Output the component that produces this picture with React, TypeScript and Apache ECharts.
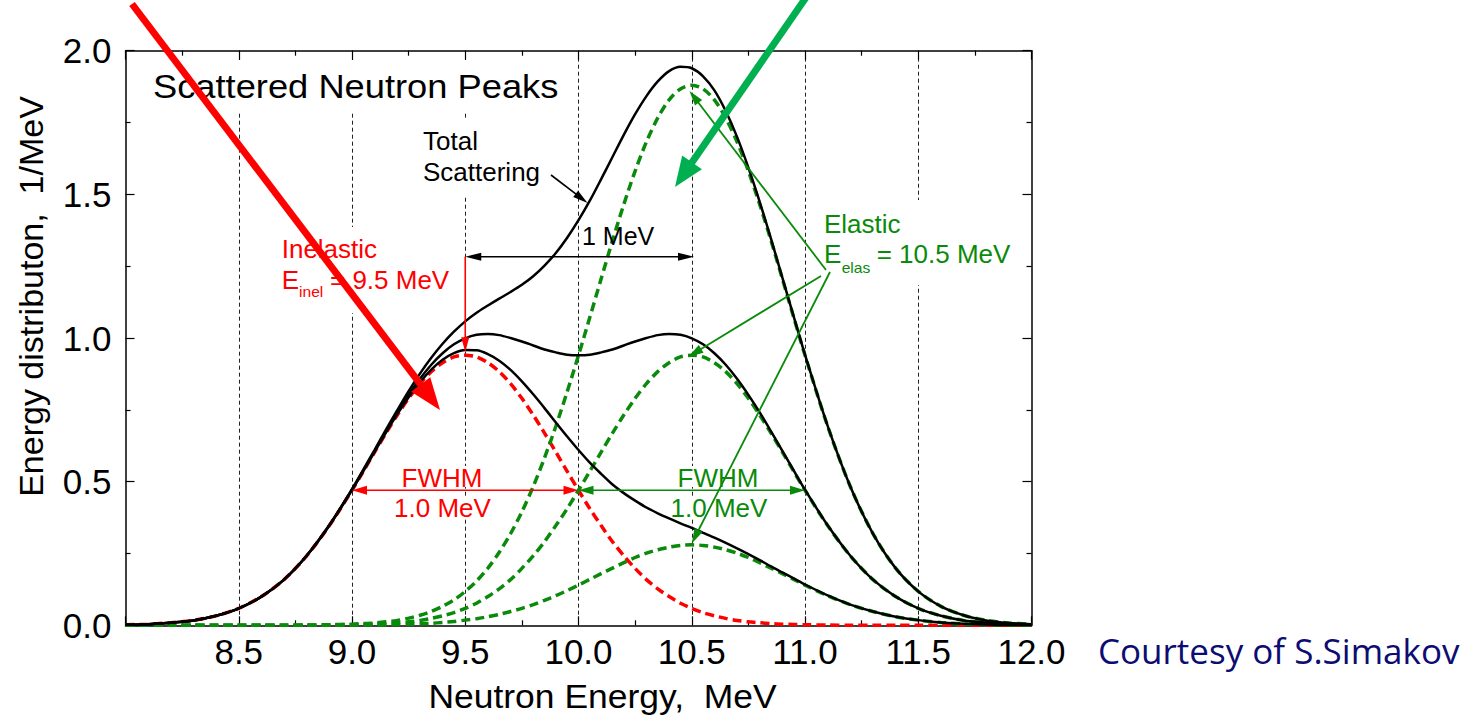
import React, { useEffect, useRef } from "react";
import * as echarts from "echarts";

// ---------- data ----------
const energy = [
  8.0, 8.1, 8.2, 8.3, 8.4, 8.5, 8.6, 8.7, 8.8, 8.9,
  9.0, 9.05, 9.1, 9.15, 9.2, 9.25, 9.3, 9.35, 9.4, 9.45,
  9.5, 9.55, 9.6, 9.65, 9.7, 9.75, 9.8, 9.85, 9.9, 9.95,
  10.0, 10.05, 10.1, 10.15, 10.2, 10.25, 10.3, 10.35, 10.4, 10.45,
  10.5, 10.55, 10.6, 10.65, 10.7, 10.75, 10.8, 10.85, 10.9, 10.95, 11.0,
  11.1, 11.2, 11.3, 11.4, 11.5, 11.6, 11.7, 11.8, 11.9, 12.0,
];
const inelastic = [
  0.002, 0.004, 0.009, 0.017, 0.033, 0.059, 0.1, 0.159, 0.242, 0.347,
  0.47, 0.536, 0.603, 0.669, 0.732, 0.79, 0.841, 0.883, 0.914, 0.934,
  0.94, 0.934, 0.914, 0.883, 0.841, 0.79, 0.732, 0.669, 0.603, 0.536,
  0.47, 0.406, 0.347, 0.291, 0.242, 0.198, 0.159, 0.127, 0.1, 0.077,
  0.059, 0.044, 0.033, 0.024, 0.017, 0.012, 0.009, 0.006, 0.004, 0.003, 0.002,
  0.001, 0, 0, 0, 0, 0, 0, 0, 0, 0,
];
const elasticLarge = [
  0, 0, 0, 0, 0, 0, 0, 0, 0.001, 0.002,
  0.004, 0.006, 0.008, 0.012, 0.017, 0.025, 0.035, 0.048, 0.066, 0.088,
  0.118, 0.154, 0.199, 0.254, 0.319, 0.395, 0.483, 0.583, 0.693, 0.813,
  0.94, 1.072, 1.206, 1.339, 1.465, 1.581, 1.683, 1.766, 1.829, 1.867,
  1.88, 1.867, 1.829, 1.766, 1.683, 1.581, 1.465, 1.339, 1.206, 1.072, 0.94,
  0.693, 0.483, 0.319, 0.199, 0.118, 0.066, 0.035, 0.017, 0.008, 0.004,
];
const elasticMedium = [
  0, 0, 0, 0, 0, 0, 0, 0, 0, 0.001,
  0.002, 0.003, 0.004, 0.006, 0.009, 0.012, 0.017, 0.024, 0.033, 0.044,
  0.059, 0.077, 0.1, 0.127, 0.159, 0.198, 0.242, 0.291, 0.347, 0.406,
  0.47, 0.536, 0.603, 0.669, 0.732, 0.79, 0.841, 0.883, 0.914, 0.934,
  0.94, 0.934, 0.914, 0.883, 0.841, 0.79, 0.732, 0.669, 0.603, 0.536, 0.47,
  0.347, 0.242, 0.159, 0.1, 0.059, 0.033, 0.017, 0.009, 0.004, 0.002,
];
const elasticSmall = [
  0, 0, 0, 0, 0, 0, 0, 0, 0, 0,
  0.001, 0.001, 0.001, 0.002, 0.003, 0.004, 0.005, 0.007, 0.01, 0.013,
  0.018, 0.023, 0.03, 0.038, 0.048, 0.059, 0.072, 0.087, 0.103, 0.121,
  0.14, 0.16, 0.18, 0.199, 0.218, 0.236, 0.251, 0.263, 0.272, 0.278,
  0.28, 0.278, 0.272, 0.263, 0.251, 0.236, 0.218, 0.199, 0.18, 0.16, 0.14,
  0.103, 0.072, 0.048, 0.03, 0.018, 0.01, 0.005, 0.003, 0.001, 0.001,
];
const totalLarge = [
  0.002, 0.004, 0.009, 0.017, 0.033, 0.059, 0.1, 0.159, 0.243, 0.349,
  0.474, 0.542, 0.611, 0.681, 0.749, 0.815, 0.876, 0.931, 0.98, 1.022,
  1.058, 1.088, 1.113, 1.137, 1.16, 1.185, 1.215, 1.252, 1.296, 1.349,
  1.41, 1.478, 1.553, 1.63, 1.707, 1.779, 1.842, 1.893, 1.929, 1.944,
  1.939, 1.911, 1.862, 1.79, 1.7, 1.593, 1.474, 1.345, 1.21, 1.075, 0.942,
  0.694, 0.483, 0.319, 0.199, 0.118, 0.066, 0.035, 0.017, 0.008, 0.004,
];
const totalMedium = [
  0.002, 0.004, 0.009, 0.017, 0.033, 0.059, 0.1, 0.159, 0.242, 0.348,
  0.472, 0.539, 0.607, 0.675, 0.741, 0.802, 0.858, 0.907, 0.947, 0.978,
  0.999, 1.011, 1.014, 1.01, 1.0, 0.988, 0.974, 0.96, 0.95, 0.942,
  0.94, 0.942, 0.95, 0.96, 0.974, 0.988, 1.0, 1.01, 1.014, 1.011,
  0.999, 0.978, 0.947, 0.907, 0.858, 0.802, 0.741, 0.675, 0.607, 0.539, 0.472,
  0.348, 0.242, 0.159, 0.1, 0.059, 0.033, 0.017, 0.009, 0.004, 0.002,
];
const totalSmall = [
  0.002, 0.004, 0.009, 0.017, 0.033, 0.059, 0.1, 0.159, 0.242, 0.347,
  0.471, 0.537, 0.604, 0.671, 0.735, 0.794, 0.846, 0.89, 0.924, 0.947,
  0.958, 0.957, 0.944, 0.921, 0.889, 0.849, 0.804, 0.756, 0.706, 0.657,
  0.61, 0.566, 0.527, 0.49, 0.46, 0.434, 0.41, 0.39, 0.372, 0.355,
  0.339, 0.322, 0.305, 0.287, 0.268, 0.248, 0.227, 0.205, 0.184, 0.163, 0.142,
  0.104, 0.072, 0.048, 0.03, 0.018, 0.01, 0.005, 0.003, 0.001, 0.001,
];

const xRange = { min: 8, max: 12, step: 0.5 };
const yRange = { min: 0, max: 2, step: 0.5 };

const title = "Scattered Neutron Peaks";
const xName = "Neutron Energy,  MeV";
const yName = "Energy distributon,  1/MeV";
const courtesy = "Courtesy of S.Simakov";

// ---------- styles ----------
const RED = "#ff0000";
const GREEN = "#0a8a0a";
const BRIGHT_GREEN = "#00b050";
const NAVY = "#0c0c72";
const FONT = '"Liberation Sans", Arial, Helvetica, sans-serif';

const pair = (arr: number[]) => energy.map((e, i) => [e, arr[i]]);

function arrowHead(x2: number, y2: number, ux: number, uy: number, color: string, hl: number, hw: number, z: number) {
  const bx = x2 - ux * hl;
  const by = y2 - uy * hl;
  const nx = -uy;
  const ny = ux;
  return {
    type: "polygon",
    z,
    silent: true,
    shape: {
      points: [
        [x2, y2],
        [bx + (nx * hw) / 2, by + (ny * hw) / 2],
        [bx - (nx * hw) / 2, by - (ny * hw) / 2],
      ],
    },
    style: { fill: color },
  };
}

function arrow(a: number[], b: number[], color: string, lw: number, hl: number, hw: number, z = 6, both = false) {
  const [x1, y1] = a;
  const [x2, y2] = b;
  const L = Math.hypot(x2 - x1, y2 - y1);
  const ux = (x2 - x1) / L;
  const uy = (y2 - y1) / L;
  const sx = both ? x1 + ux * hl * 0.8 : x1;
  const sy = both ? y1 + uy * hl * 0.8 : y1;
  const els: any[] = [
    {
      type: "line",
      z,
      silent: true,
      shape: { x1: sx, y1: sy, x2: x2 - ux * hl * 0.8, y2: y2 - uy * hl * 0.8 },
      style: { stroke: color, lineWidth: lw },
    },
    arrowHead(x2, y2, ux, uy, color, hl, hw, z),
  ];
  if (both) els.push(arrowHead(x1, y1, -ux, -uy, color, hl, hw, z));
  return els;
}

function text(t: string, x: number, y: number, size: number, fill: string, opt: any = {}) {
  return {
    type: "text",
    z: 4,
    silent: true,
    x,
    y,
    rotation: opt.rotation ?? 0,
    scaleX: opt.scaleX ?? 1.04,
    style: {
      text: t,
      fill,
      fontSize: size,
      fontFamily: opt.family ?? FONT,
      align: opt.align ?? "left",
      verticalAlign: "middle",
    },
  };
}

function box(x1: number, y1: number, x2: number, y2: number) {
  return {
    type: "rect",
    z: 1,
    silent: true,
    shape: { x: x1, y: y1, width: x2 - x1, height: y2 - y1 },
    style: { fill: "#ffffff" },
  };
}

export default function App() {
  const ref = useRef<HTMLDivElement>(null);

  useEffect(() => {
    if (!ref.current) return;
    const chart = echarts.init(ref.current, null, { renderer: "svg" });

    const axisCommon = {
      type: "value",
      axisLine: { show: true, onZero: false, lineStyle: { color: "#000", width: 1.5 } },
      axisTick: { show: true, inside: true, length: 9, lineStyle: { color: "#000", width: 1.2 } },
      minorTick: { show: true, splitNumber: 2, length: 5, lineStyle: { color: "#000", width: 1.2 } },
      splitLine: { show: false },
    };

    const dashed = (color: string) => ({ color, width: 3.5, type: [9, 5] });
    const solid = { color: "#000", width: 2.5 };

    const line = (name: string, arr: number[], lineStyle: any) => ({
      name,
      type: "line",
      data: pair(arr),
      smooth: 0.3,
      showSymbol: false,
      symbol: "none",
      clip: false,
      lineStyle,
      z: 2,
    });

    chart.setOption({
      animation: false,
      backgroundColor: "#ffffff",
      grid: { left: 125.5, right: 445.5, top: 50.7, bottom: 91.7, containLabel: false },
      xAxis: [
        {
          ...axisCommon,
          min: xRange.min,
          max: xRange.max,
          interval: xRange.step,
          position: "bottom",
          axisLabel: {
            show: true,
            color: "#000",
            fontSize: 35,
            fontFamily: FONT,
            margin: 9,
            showMinLabel: false,
            formatter: (v: number) => (v === xRange.min ? "" : v.toFixed(1)),
          },
          splitLine: {
            show: true,
            showMinLine: false,
            showMaxLine: false,
            lineStyle: { color: "#222", width: 1, type: [4, 3] },
          },
        },
        {
          ...axisCommon,
          min: xRange.min,
          max: xRange.max,
          interval: xRange.step,
          position: "top",
          axisLabel: { show: false },
        },
      ],
      yAxis: [
        {
          ...axisCommon,
          min: yRange.min,
          max: yRange.max,
          interval: yRange.step,
          position: "left",
          axisLabel: {
            show: true,
            color: "#000",
            fontSize: 35,
            fontFamily: FONT,
            margin: 14,
            formatter: (v: number) => v.toFixed(1),
          },
        },
        {
          ...axisCommon,
          min: yRange.min,
          max: yRange.max,
          interval: yRange.step,
          position: "right",
          axisLabel: { show: false },
        },
      ],
      series: [
        line("Inelastic", inelastic, dashed(RED)),
        line("Elastic (large)", elasticLarge, dashed(GREEN)),
        line("Elastic (medium)", elasticMedium, dashed(GREEN)),
        line("Elastic (small)", elasticSmall, dashed(GREEN)),
        line("Total (large)", totalLarge, solid),
        line("Total (medium)", totalMedium, solid),
        line("Total (small)", totalSmall, solid),
      ],
    });

    const P = (x: number, y: number) =>
      chart.convertToPixel({ xAxisIndex: 0, yAxisIndex: 0 }, [x, y]) as number[];

    const g: any[] = [];
    // white boxes behind labels (hide the dashed grid lines)
    g.push(box(143, 60, 566, 112));
    g.push(box(413, 118, 551, 195));
    g.push(box(272, 227, 455, 313));
    g.push(box(814, 200, 1020, 285));
    g.push(box(398, 466, 486, 487));
    g.push(box(392, 497, 494, 519));
    g.push(box(673, 466, 763, 487));
    g.push(box(668, 497, 770, 519));

    // texts
    g.push(text(title, 153, 86.5, 33, "#000", { scaleX: 1.1 }));
    g.push(text("Total", 423, 141, 25, "#000"));
    g.push(text("Scattering", 423, 172.5, 25, "#000"));
    g.push(text("1 MeV", 582, 236, 25, "#000", { scaleX: 1.0 }));
    g.push(text("Inelastic", 281.7, 249, 25, RED));
    g.push(text("E", 281.7, 280, 25, RED));
    g.push(text("inel", 299, 291.5, 15, RED));
    g.push(text("= 9.5 MeV", 330, 280, 25, RED));
    g.push(text("Elastic", 824, 224, 25, GREEN));
    g.push(text("E", 824, 254, 25, GREEN));
    g.push(text("elas", 841.7, 267.5, 15, GREEN));
    g.push(text("= 10.5 MeV", 876.7, 254, 25, GREEN));
    g.push(text("FWHM", 442, 478.5, 25, RED, { align: "center" }));
    g.push(text("1.0 MeV", 442.5, 508, 25, RED, { align: "center" }));
    g.push(text("FWHM", 718, 478.5, 25, GREEN, { align: "center" }));
    g.push(text("1.0 MeV", 719, 508, 25, GREEN, { align: "center" }));
    g.push(text(xName, 602.5, 696.5, 33, "#000", { align: "center", scaleX: 1.075 }));
    g.push(text(yName, 30.5, 296.5, 34, "#000", { align: "center", scaleX: 1.0, rotation: Math.PI / 2 }));
    g.push(text(courtesy, 1098, 650, 35, NAVY, { family: '"Open Sans", "Noto Sans", sans-serif', scaleX: 1.0 }));

    // annotation arrows
    g.push(...arrow(P(9.5, 1.283), P(10.51, 1.283), "#000", 1.4, 16, 8, 6, true));
    g.push(...arrow(P(9.5, 1.283), P(9.5, 0.95), RED, 1.6, 15, 8));
    g.push(...arrow(P(9.0, 0.47), P(10.0, 0.47), RED, 1.6, 15, 9, 6, true));
    g.push(...arrow(P(10.0, 0.47), P(11.0, 0.47), GREEN, 1.6, 15, 9, 6, true));
    g.push(...arrow([551, 175], P(10.04, 1.47), "#000", 1.6, 15, 8));
    g.push(...arrow([826, 270], P(10.49, 1.86), GREEN, 1.8, 15, 9));
    g.push(...arrow([821, 276], P(10.485, 0.935), GREEN, 1.8, 15, 9));
    g.push(...arrow([830, 272], P(10.5, 0.285), GREEN, 1.8, 15, 9));
    // big pointer arrows
    g.push(...arrow([132, 4], [440, 410], RED, 7, 32, 24, 8));
    g.push(...arrow([807, -4], [675, 187], BRIGHT_GREEN, 7, 30, 24, 8));

    chart.setOption({ graphic: { elements: g } });

    return () => chart.dispose();
  }, []);

  return (
    <div
      ref={ref}
      style={{ position: "fixed", left: 0, top: 0, width: 1477, height: 717, background: "#fff" }}
    />
  );
}
